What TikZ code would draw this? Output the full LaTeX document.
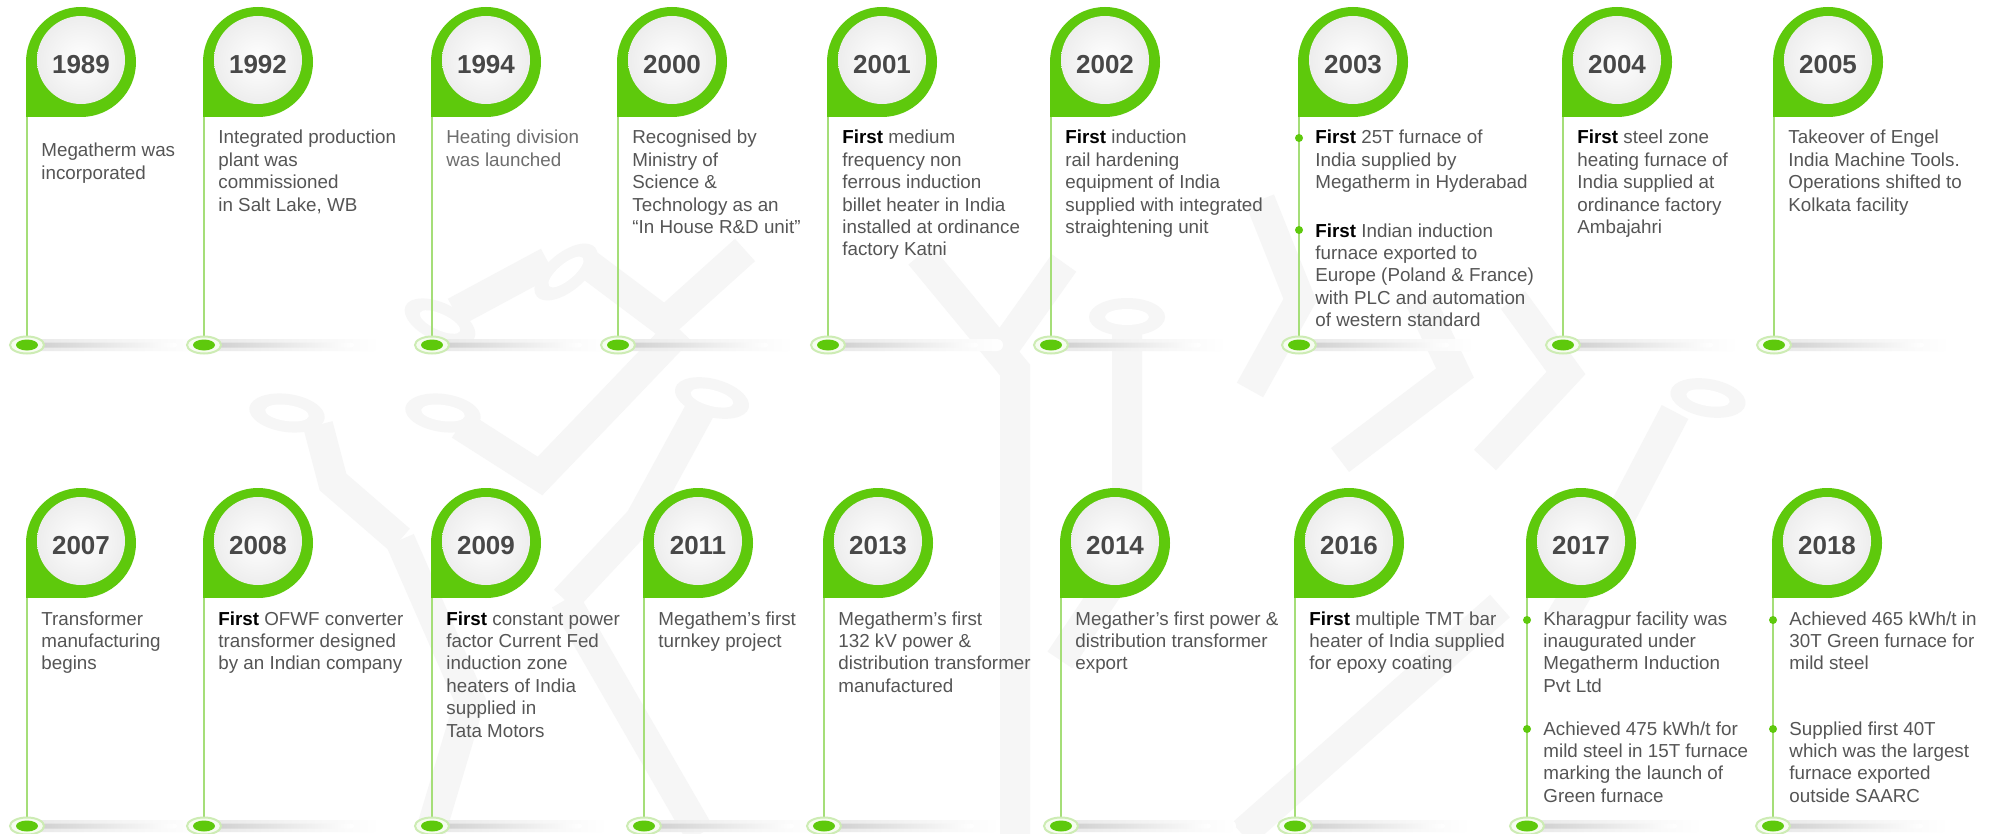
\documentclass[tikz,border=0pt]{standalone}
\usepackage{fontspec}
\setmainfont{Liberation Sans}
\usetikzlibrary{shapes.geometric}
\definecolor{mkgreen}{RGB}{94,201,12}
\definecolor{linegreen}{RGB}{165,222,120}
\definecolor{ringpale}{RGB}{205,236,180}
\definecolor{palefill}{RGB}{246,252,240}
\definecolor{textgray}{RGB}{85,85,85}
\definecolor{lightgray}{RGB}{110,110,110}
\definecolor{yeargray}{RGB}{72,72,72}
\definecolor{wmc}{RGB}{246,246,246}
\newcommand\lines[1]{\begin{tabular}[t]{@{}l@{}}#1\end{tabular}}
\newcommand\first{\textbf{\color{black}First}}
\newcommand\mstone[4]{%
  \shade[left color=black!9, right color=white, rounded corners=3pt] (#2,#3+339) rectangle (#2+175,#3+351);
  \shade[left color=black!20, right color=white, rounded corners=1.5pt] (#2,#3+342.5) rectangle (#2+150,#3+347.5);
  \coordinate (s#1) at (#2,#3+116);
  \coordinate (e#1) at (#2,#3+345);
  \draw[stem] (s#1) -- (e#1);
  \filldraw[fill=palefill, draw=ringpale, line width=1pt] (e#1) ellipse [x radius=17, y radius=8.5];
  \fill[mkgreen] (e#1) ellipse [x radius=11, y radius=5.5];
  \fill[mkgreen] (#2+54,#3+62) circle (55);
  \fill[mkgreen] (#2-1,#3+62) rectangle (#2+54,#3+117);
  \shade[inner color=white, outer color=black!7] (#2+54,#3+60) circle (44);
  \node[yr] (y#1) at (#2+54,#3+65) {#4};
}
\newcommand\wpad[3]{%
  \fill[wmc, rotate around={#3:(#1,#2)}] (#1,#2) ellipse [x radius=38, y radius=19];
  \fill[white, rotate around={#3:(#1,#2)}] (#1,#2) ellipse [x radius=22, y radius=8];
}
\tikzset{
  txt/.style={anchor=base west, inner sep=0pt, font=\fontsize{9.4}{11.2}\selectfont, text=textgray},
  yr/.style={inner sep=0pt, font=\fontsize{13}{13}\selectfont\bfseries, text=yeargray},
  stem/.style={draw=linegreen, line width=1pt},
  wm/.style={draw=wmc, line width=15pt},
  bul/.style={fill=mkgreen},
}
\begin{document}
\begin{tikzpicture}[x=0.5pt,y=-0.5pt]
\fill[white] (0,0) rectangle (2000,834);
\useasboundingbox (0,0) rectangle (2000,834);
% ---------- watermark ----------
\begin{scope}[wm]
  \draw (318,425) -- (333,482) -- (400,540);
  \draw (460,425) -- (540,476) -- (615,398) -- (680,330);
  \draw (700,410) -- (640,520) -- (565,600);
  \draw (455,312) -- (548,262);
  \draw (585,262) -- (665,322) -- (745,250);
  \draw (920,255) -- (1015,370) -- (1015,834);
  \draw (1064,263) -- (1000,353);
  \draw (1127,330) -- (1127,560) -- (1060,660);
  \draw (1420,300) -- (1455,373) -- (1340,460);
  \draw (1513,300) -- (1566,373) -- (1485,460);
  \draw (1675,412) -- (1608,540) -- (1560,620);
  \draw (1242,834) -- (1500,606);
  \draw (400,540) -- (470,700) -- (430,834);
  \draw (565,600) -- (700,834);
  \draw (1260,200) -- (1300,300) -- (1250,390);
\end{scope}
\wpad{287}{413}{-8}
\wpad{443}{413}{-8}
\wpad{712}{398}{-15}
\wpad{440}{322}{-25}
\wpad{566}{272}{40}
\wpad{1127}{317}{0}
\wpad{1708}{398}{-10}
% ---------- top row ----------
\mstone{1989}{27}{0}{1989}
\mstone{1992}{204}{0}{1992}
\mstone{1994}{432}{0}{1994}
\mstone{2000}{618}{0}{2000}
\mstone{2001}{828}{0}{2001}
\mstone{2002}{1051}{0}{2002}
\mstone{2003}{1299}{0}{2003}
\mstone{2004}{1563}{0}{2004}
\mstone{2005}{1774}{0}{2005}
% ---------- bottom row ----------
\mstone{2007}{27}{481}{2007}
\mstone{2008}{204}{481}{2008}
\mstone{2009}{432}{481}{2009}
\mstone{2011}{644}{481}{2011}
\mstone{2013}{824}{481}{2013}
\mstone{2014}{1061}{481}{2014}
\mstone{2016}{1295}{481}{2016}
\mstone{2017}{1527}{481}{2017}
\mstone{2018}{1773}{481}{2018}
% ---------- texts top ----------
\node[txt] (t1989) at (41,157) {\lines{Megatherm was\\incorporated}};
\node[txt] (t1992) at (218,144) {\lines{Integrated production\\plant was\\commissioned\\in Salt Lake, WB}};
\node[txt, text=lightgray] (t1994) at (446,144) {\lines{Heating division\\was launched}};
\node[txt] (t2000) at (632,144) {\lines{Recognised by\\Ministry of\\Science \&\\Technology as an\\“In House R\&D unit”}};
\node[txt] (t2001) at (842,144) {\lines{\first{} medium\\frequency non\\ferrous induction\\billet heater in India\\installed at ordinance\\factory Katni}};
\node[txt] (t2002) at (1065,144) {\lines{\first{} induction\\rail hardening\\equipment of India\\supplied with integrated\\straightening unit}};
\fill[bul] (1299,138) circle (4);
\node[txt] (t2003a) at (1315,144) {\lines{\first{} 25T furnace of\\India supplied by\\Megatherm in Hyderabad}};
\fill[bul] (1299,230) circle (4);
\node[txt] (t2003b) at (1315,237) {\lines{\first{} Indian induction\\furnace exported to\\Europe (Poland \& France)\\with PLC and automation\\of western standard}};
\node[txt] (t2004) at (1577,144) {\lines{\first{} steel zone\\heating furnace of\\India supplied at\\ordinance factory\\Ambajahri}};
\node[txt] (t2005) at (1788,144) {\lines{Takeover of Engel\\India Machine Tools.\\Operations shifted to\\Kolkata facility}};
% ---------- texts bottom ----------
\node[txt] (t2007) at (41,625) {\lines{Transformer\\manufacturing\\begins}};
\node[txt] (t2008) at (218,625) {\lines{\first{} OFWF converter\\transformer designed\\by an Indian company}};
\node[txt] (t2009) at (446,625) {\lines{\first{} constant power\\factor Current Fed\\induction zone\\heaters of India\\supplied in\\Tata Motors}};
\node[txt] (t2011) at (658,625) {\lines{Megathem’s first\\turnkey project}};
\node[txt] (t2013) at (838,625) {\lines{Megatherm’s first\\132 kV power \&\\distribution transformer\\manufactured}};
\node[txt] (t2014) at (1075,625) {\lines{Megather’s first power \&\\distribution transformer\\export}};
\node[txt] (t2016) at (1309,625) {\lines{\first{} multiple TMT bar\\heater of India supplied\\for epoxy coating}};
\fill[bul] (1527,620) circle (4);
\node[txt] (t2017a) at (1543,625) {\lines{Kharagpur facility was\\inaugurated under\\Megatherm Induction\\Pvt Ltd}};
\fill[bul] (1527,729) circle (4);
\node[txt] (t2017b) at (1543,735) {\lines{Achieved 475 kWh/t for\\mild steel in 15T furnace\\marking the launch of\\Green furnace}};
\fill[bul] (1773,620) circle (4);
\node[txt] (t2018a) at (1789,625) {\lines{Achieved 465 kWh/t in\\30T Green furnace for\\mild steel}};
\fill[bul] (1773,729) circle (4);
\node[txt] (t2018b) at (1789,735) {\lines{Supplied first 40T\\which was the largest\\furnace exported\\outside SAARC}};
\end{tikzpicture}
\end{document}
